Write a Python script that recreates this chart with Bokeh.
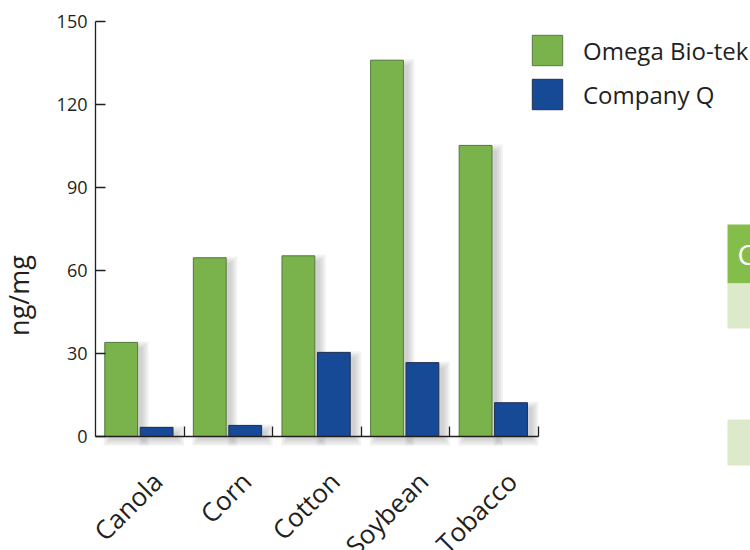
import math

from bokeh.plotting import figure
from bokeh.models import (LinearAxis, FixedTicker, Range1d, Legend, LegendItem,
                          Label, BoxAnnotation, ColumnDataSource)
from bokeh.transform import dodge
from bokeh.embed import file_html
from bokeh.resources import INLINE

# --- data -------------------------------------------------------------
crops = ["Canola", "Corn", "Cotton", "Soybean", "Tobacco"]
omega_biotek = [34.0, 64.6, 65.3, 136.0, 105.2]
company_q = [3.3, 4.0, 30.4, 26.7, 12.2]
y_ticks = [0, 30, 60, 90, 120, 150]
series_names = ["Omega Bio-tek", "Company Q"]
y_label = "ng/mg"

# --- styling ----------------------------------------------------------
FONT = "Open Sans"
TEXT = "#231f20"
GREEN, GREEN_EDGE = "#7ab24c", "#557a3e"
BLUE, BLUE_EDGE = "#164a96", "#1f2d4f"

W, H = 750, 550
ORIGIN_X = 95                 # pixel column of x = 0
TOP_Y = 21                    # pixel row of the value 150
ZERO_Y = 436                  # pixel row of the value 0
CAT_PX = 88.6                 # pixel width of one crop group
Y_MAX = 150
PX_X = 1.0 / CAT_PX           # one pixel in x data units
PX_Y = Y_MAX / (ZERO_Y - TOP_Y)     # one pixel in y data units
X_START = -ORIGIN_X * PX_X
X_END = (W - ORIGIN_X) * PX_X
Y_START = -(H - ZERO_Y) * PX_Y
Y_END = ZERO_Y * PX_Y

BAR_W = 0.37
SHIFT = 0.2
centers = [i + 0.49 for i in range(len(crops))]

src = ColumnDataSource(dict(x=centers, crop=crops, omega=omega_biotek, q=company_q))

p = figure(width=W, height=H,
           x_range=Range1d(X_START, X_END), y_range=Range1d(Y_START, Y_END),
           x_axis_type=None, y_axis_type=None,
           toolbar_location=None, output_backend="svg",
           min_border=0)
p.outline_line_color = None
p.background_fill_color = "white"
p.border_fill_color = "white"

# soft drop shadows behind each bar (stacked translucent layers)
for vals, off in ((omega_biotek, -SHIFT), (company_q, SHIFT)):
    for spread in (6, 4, 2, 0):
        lefts = [c + off - BAR_W / 2 + (5 - spread) * PX_X for c in centers]
        rights = [c + off + BAR_W / 2 + (5 + spread) * PX_X for c in centers]
        tops = [v - (5 - spread) * PX_Y for v in vals]
        p.quad(left=lefts, right=rights, top=tops, bottom=-(3 + spread) * PX_Y,
               fill_color="#6d6466", fill_alpha=0.085, line_color=None)

r_omega = p.vbar(x=dodge("x", -SHIFT, range=p.x_range), top="omega", width=BAR_W,
                 source=src, fill_color=GREEN, line_color=GREEN_EDGE, line_width=1)
r_q = p.vbar(x=dodge("x", SHIFT, range=p.x_range), top="q", width=BAR_W,
             source=src, fill_color=BLUE, line_color=BLUE_EDGE, line_width=1)

# y axis at x = 0 with inward ticks, spanning 0..150 only
yaxis = LinearAxis(ticker=FixedTicker(ticks=y_ticks), bounds=(0, Y_MAX),
                   fixed_location=0,
                   major_tick_in=10, major_tick_out=0,
                   minor_tick_line_color=None,
                   axis_line_color=TEXT, major_tick_line_color=TEXT,
                   axis_line_width=1.3, major_tick_line_width=1.3,
                   major_label_text_font=FONT, major_label_text_font_size="18px",
                   major_label_text_color=TEXT, major_label_standoff=8)
p.add_layout(yaxis, "left")

# x axis at value 0: inward minor ticks at group boundaries,
# rotated crop names on (hidden) major ticks
label_pos = [c + 0.21 for c in centers]
xaxis = LinearAxis(ticker=FixedTicker(ticks=label_pos,
                                      minor_ticks=list(range(1, len(crops) + 1))),
                   bounds=(0, len(crops)), fixed_location=0,
                   major_label_overrides={pos: name for pos, name in zip(label_pos, crops)},
                   major_tick_line_color=None, major_tick_in=0, major_tick_out=0,
                   minor_tick_in=10, minor_tick_out=0,
                   minor_tick_line_color=TEXT, minor_tick_line_width=1.3,
                   axis_line_color=TEXT, axis_line_width=1.3,
                   major_label_orientation=math.pi / 4,
                   major_label_text_font=FONT, major_label_text_font_size="26px",
                   major_label_text_color=TEXT, major_label_standoff=40)
p.add_layout(xaxis, "below")

p.add_layout(Label(x=(18 - ORIGIN_X) * PX_X, y=(ZERO_Y - 295) * PX_Y, text=y_label,
                   angle=math.pi / 2, text_align="center", text_baseline="middle",
                   text_font=FONT, text_font_size="27px", text_color=TEXT))

legend = Legend(items=[LegendItem(label=series_names[0], renderers=[r_omega]),
                       LegendItem(label=series_names[1], renderers=[r_q])],
                location=(528, 437), orientation="vertical",
                glyph_width=38, glyph_height=38, label_height=38, label_width=10,
                spacing=6, padding=0, margin=0, label_standoff=17,
                border_line_color=None, background_fill_alpha=0,
                label_text_font=FONT, label_text_font_size="24px",
                label_text_color=TEXT, label_text_baseline="middle")
p.add_layout(legend)

# edge of the neighbouring table panel
tbl_left = (727 - ORIGIN_X) * PX_X
for y0, y1, col in ((224, 283, "#84bd4a"), (283, 328, "#dde9cb"), (419, 465, "#dde9cb")):
    p.add_layout(BoxAnnotation(left=tbl_left, top=(ZERO_Y - y0) * PX_Y,
                               bottom=(ZERO_Y - y1) * PX_Y,
                               fill_color=col, fill_alpha=1, line_color=None,
                               level="underlay"))
p.add_layout(Label(x=(737 - ORIGIN_X) * PX_X, y=(ZERO_Y - 253) * PX_Y, text="C",
                   text_baseline="middle", text_font=FONT, text_font_size="28px",
                   text_color="white"))

open("out.html", "w").write(file_html(p, INLINE))
